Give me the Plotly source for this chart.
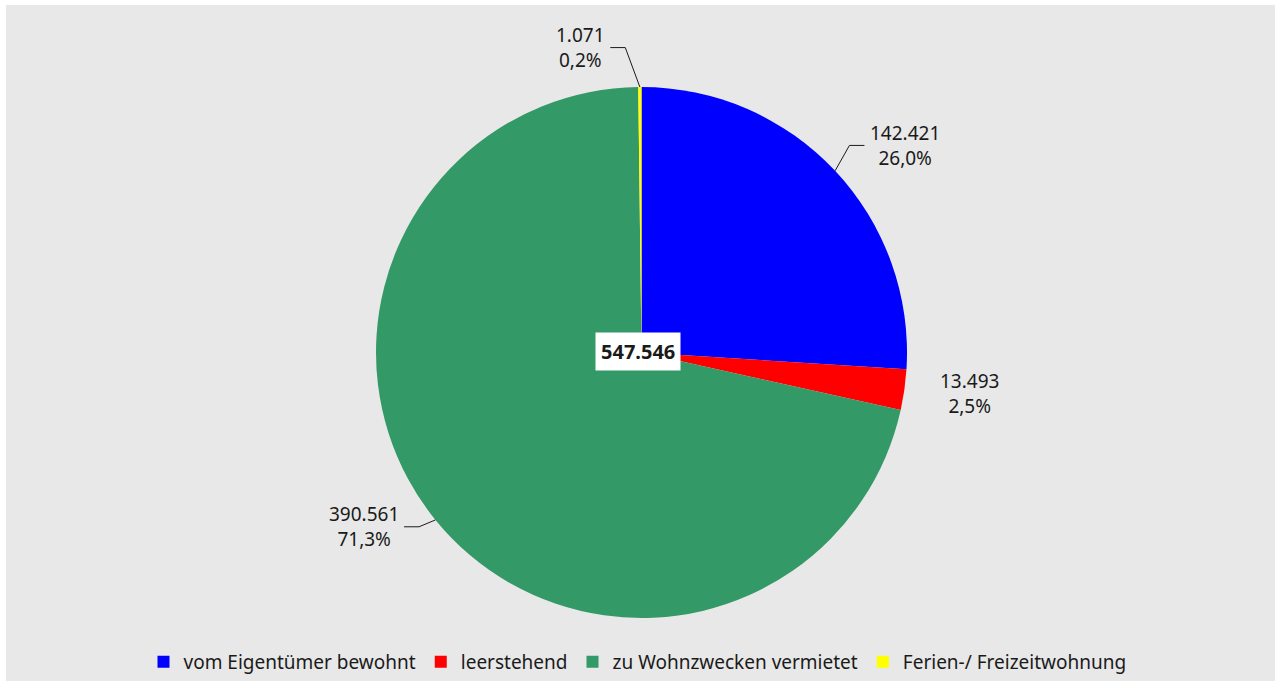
import math
import plotly.graph_objects as go

labels = ["vom Eigentümer bewohnt", "leerstehend", "zu Wohnzwecken vermietet", "Ferien-/ Freizeitwohnung"]
values = [142421, 13493, 390561, 1071]
colors = ["#0000ff", "#ff0000", "#339966", "#ffff00"]

# label placement styling (angle nudge in degrees, radius in px, show leader line)
label_nudge = [5, -1, 7, -11]
label_radius = [335, 331, 328, 311]
leader = [True, False, True, True]

W, H = 1275, 684
CX, CY, R = 641.5, 352.5, 265.5
FONT = "Noto Sans"


def de_num(v):
    return f"{v:,}".replace(",", ".")


def de_pct(p):
    return f"{p:.1f}%".replace(".", ",")


total = sum(values)

fig = go.Figure()
fig.add_trace(go.Pie(
    labels=labels, values=values, sort=False, direction="clockwise", rotation=0,
    marker=dict(colors=colors, line=dict(width=0)),
    textinfo="none", hoverinfo="label+value+percent",
    domain=dict(x=[(CX - 400) / W, (CX + 400) / W], y=[(H - CY - R) / H, (H - CY + R) / H]),
))

shapes = [dict(type="rect", xref="paper", yref="paper", x0=6 / W, x1=1, y0=3 / H, y1=(H - 5) / H,
               fillcolor="#e8e8e8", line=dict(width=0), layer="below")]
annotations = []

cum = 0
for i, v in enumerate(values):
    frac = v / total
    mid = (cum + frac / 2) * 360
    cum += frac
    ang = math.radians(mid)
    ex, ey = CX + R * math.sin(ang), CY - R * math.cos(ang)
    la = math.radians(mid + label_nudge[i])
    lx, ly = CX + label_radius[i] * math.sin(la), CY - label_radius[i] * math.cos(la)
    txt = f"{de_num(v)}<br>{de_pct(frac * 100)}"
    annotations.append(dict(x=lx / W, y=1 - ly / H, xref="paper", yref="paper", text=txt,
                            showarrow=False, xanchor="center", yanchor="middle",
                            font=dict(family=FONT, size=19, color="#1a1a1a")))
    if leader[i]:
        half = len(de_num(v)) * 5.2 + 4
        side = 1 if lx > ex else -1
        endx = lx - side * half
        elbx = endx - side * 15
        path = f"M {ex / W} {1 - ey / H} L {elbx / W} {1 - ly / H} L {endx / W} {1 - ly / H}"
        shapes.append(dict(type="path", xref="paper", yref="paper", path=path,
                           line=dict(color="#1a1a1a", width=1)))

annotations.append(dict(x=638.5 / W, y=1 - 351.5 / H, xref="paper", yref="paper",
                        text=f"<b>{de_num(total)}</b>", showarrow=False,
                        bgcolor="white", borderpad=5,
                        font=dict(family=FONT, size=20, color="#1a1a1a")))

fig.update_layout(
    width=W, height=H, margin=dict(l=0, r=0, t=0, b=0),
    paper_bgcolor="white", plot_bgcolor="white",
    shapes=shapes, annotations=annotations,
    showlegend=True,
    legend=dict(orientation="h", x=0.5, xanchor="center", y=22 / H, yanchor="middle",
                font=dict(family=FONT, size=19, color="#1a1a1a"), bgcolor="rgba(0,0,0,0)",
                itemwidth=30, traceorder="normal"),
)

fig.write_html("out.html", config={"displayModeBar": False},
               post_script="document.body.style.margin='0';")
